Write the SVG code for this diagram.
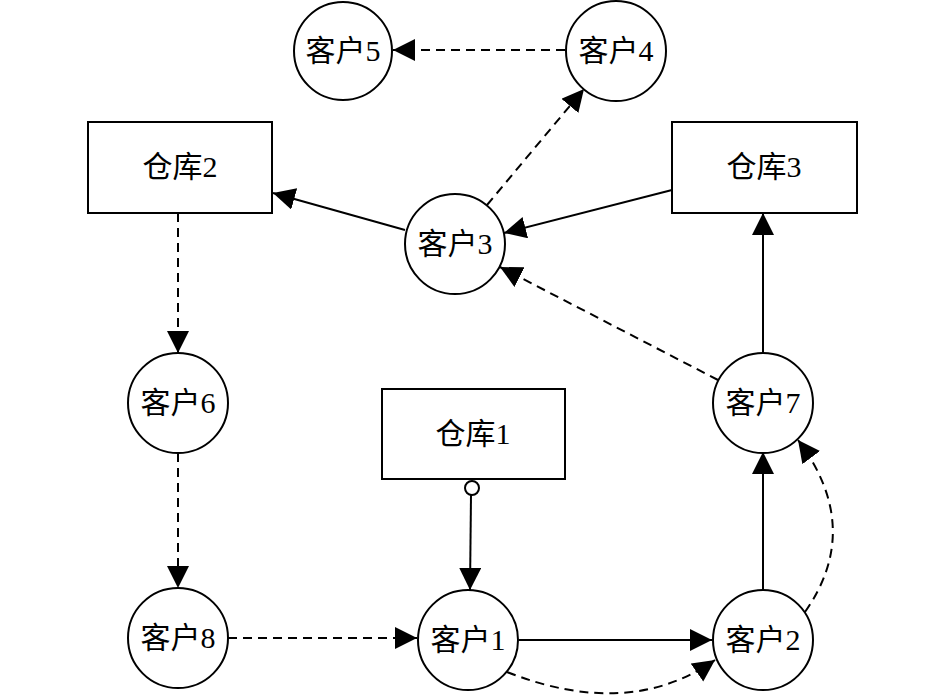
<svg xmlns="http://www.w3.org/2000/svg" width="945" height="697" viewBox="0 0 945 697">
<style>
.n{fill:#fff;stroke:#000;stroke-width:2}
.t{font-family:"Liberation Serif","Noto Sans CJK SC",serif;font-size:30px;text-anchor:middle;fill:#000}
.s{fill:none;stroke:#000;stroke-width:2;marker-end:url(#ah)}
.d{fill:none;stroke:#000;stroke-width:2;stroke-dasharray:9,6;marker-end:url(#ah)}
</style>
<defs>
<marker id="ah" markerUnits="userSpaceOnUse" markerWidth="24" markerHeight="24" refX="22" refY="11" orient="auto" viewBox="0 0 24 24">
<path d="M0,0 L22,11 L0,22 z" fill="#000"/>
</marker>
</defs>
<rect width="945" height="697" fill="#fff"/>
<g id="connectors">
<path class="d" d="M565,50 L393,50"/>
<path class="d" d="M487,205 L584,89"/>
<path class="s" d="M405,230 L273,193"/>
<path class="s" d="M672,190 L504,233"/>
<path class="d" d="M718,380 L500,267"/>
<path class="s" d="M763,353 L763,213"/>
<path class="d" d="M178,213 L178,353"/>
<path class="d" d="M178,453 L178,588"/>
<path class="d" d="M228,638 L417,638"/>
<path class="s" d="M471,495 L470,590"/>
<circle cx="472" cy="488" r="7" fill="#fff" stroke="#000" stroke-width="2"/>
<path class="s" d="M519,640 L712,640"/>
<path class="d" d="M507,672 Q629,720 715,660"/>
<path class="s" d="M763,590 L763,452"/>
<path class="d" d="M805,612 Q864,528 798,440"/>
</g>
<g id="c5"><circle class="n" cx="343" cy="51" r="49"/><text class="t" x="343" y="61">客户5</text></g>
<g id="c4"><circle class="n" cx="616" cy="51" r="50"/><text class="t" x="616" y="61">客户4</text></g>
<g id="w2"><rect class="n" x="88" y="122" width="184" height="91"/><text class="t" x="180" y="177">仓库2</text></g>
<g id="w3"><rect class="n" x="672" y="122" width="185" height="91"/><text class="t" x="764" y="177">仓库3</text></g>
<g id="c3"><circle class="n" cx="455" cy="244" r="50"/><text class="t" x="455" y="254">客户3</text></g>
<g id="c6"><circle class="n" cx="178" cy="403" r="50"/><text class="t" x="178" y="413">客户6</text></g>
<g id="c7"><circle class="n" cx="763" cy="403" r="50"/><text class="t" x="763" y="413">客户7</text></g>
<g id="w1"><rect class="n" x="382" y="389" width="183" height="90"/><text class="t" x="473" y="444">仓库1</text></g>
<g id="c8"><circle class="n" cx="178" cy="638" r="50"/><text class="t" x="178" y="648">客户8</text></g>
<g id="c1"><circle class="n" cx="468" cy="640" r="50"/><text class="t" x="468" y="650">客户1</text></g>
<g id="c2"><circle class="n" cx="763" cy="640" r="50"/><text class="t" x="763" y="650">客户2</text></g>
</svg>
